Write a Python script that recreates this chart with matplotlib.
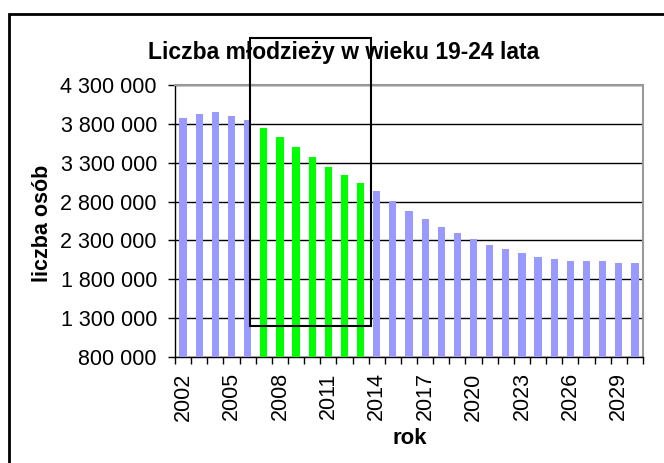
import numpy as np
import matplotlib.pyplot as plt
from matplotlib.patches import Rectangle
from matplotlib.ticker import FuncFormatter

plt.rcParams['font.family'] = ['Liberation Sans', 'DejaVu Sans']

years = list(range(2002, 2031))
liczba = [3881000, 3932000, 3958000, 3906000, 3855000,
          3753000, 3625000, 3497000, 3369000, 3240000, 3138000, 3035000,
          2933000, 2805000, 2676000, 2574000, 2471000, 2394000, 2317000,
          2240000, 2189000, 2138000, 2087000, 2061000, 2035000, 2035000,
          2035000, 2010000, 2010000]
highlight = list(range(2007, 2014))

colors = ['#00FF00' if y in highlight else '#9999FF' for y in years]

fig = plt.figure(figsize=(6.64, 4.63), dpi=100)
ax = fig.add_axes([175 / 664, 106 / 463, 468 / 664, 272 / 463])

x = np.arange(len(years))
ax.bar(x, liczba, width=0.45, color=colors, zorder=3)

ax.set_xlim(-0.5, len(years) - 0.5)
ax.set_ylim(800000, 4300000)
yt = np.arange(800000, 4300001, 500000)
ax.set_yticks(yt)
ax.yaxis.set_major_formatter(FuncFormatter(lambda v, p: f"{int(v):,}".replace(",", " ")))
ax.grid(axis='y', color='black', linewidth=1, zorder=1)

ax.set_xticks(x[::3])
ax.set_xticklabels([str(y) for y in years[::3]], rotation=90)
ax.set_xticks(np.arange(-0.5, len(years), 1), minor=True)
ax.tick_params(axis='x', which='major', length=0, pad=11, labelsize=15.5)
ax.tick_params(axis='x', which='minor', length=5, width=1, direction='out')
ax.tick_params(axis='y', length=5, width=1, labelsize=15.5, pad=8)

for s in ['top', 'right']:
    ax.spines[s].set_color('#999999')
    ax.spines[s].set_linewidth(1.5)
for s in ['left', 'bottom']:
    ax.spines[s].set_color('black')
    ax.spines[s].set_linewidth(1)

ax.set_ylabel('liczba osób', fontsize=15.5, fontweight='bold')
ax.yaxis.set_label_coords(-0.261, 0.493)
ax.set_xlabel('rok', fontsize=16, fontweight='bold')
ax.xaxis.set_label_coords(0.502, -0.261)
fig.text(0.517, 1 - 52 / 463, 'Liczba młodzieży w wieku 19-24 lata',
         ha='center', va='center', fontsize=16.5, fontweight='bold')

# ramka zaznaczenia 2007-2013
ax.add_patch(Rectangle((4.16, 1205000), 7.5, 4900000 - 1205000, fill=False,
                       edgecolor='black', linewidth=1.5, clip_on=False, zorder=5))

# ramka wokol wykresu
fig.add_artist(Rectangle((9 / 664, -0.05), 1.0, 1 - 14 / 463 + 0.05,
                         transform=fig.transFigure, fill=False,
                         edgecolor='black', linewidth=2))

fig.savefig('out.png', dpi=100)
